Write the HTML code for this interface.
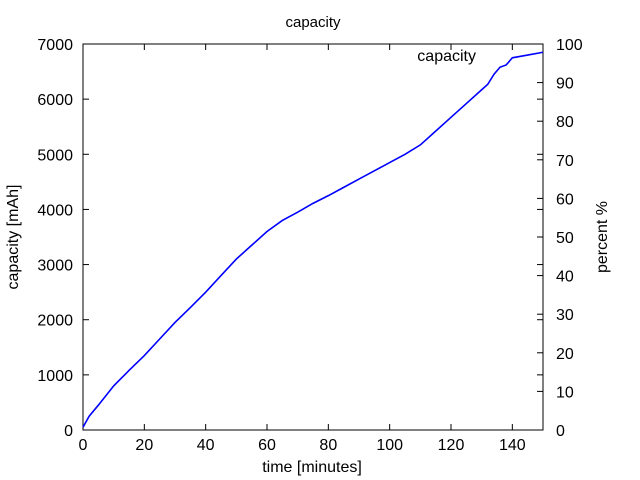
<!DOCTYPE html>
<html><head><meta charset="utf-8"><style>
html,body{margin:0;padding:0;background:#fff;}
svg{display:block;font-family:"Liberation Sans",sans-serif;}
</style></head><body>
<svg id="chart" width="640" height="480">
<text x="313" y="27" font-size="15" text-anchor="middle">capacity</text>
<rect x="83" y="44" width="460" height="386" fill="none" stroke="#000" stroke-width="1"/>
<g id="axes"></g>
<text x="312" y="472" font-size="16" text-anchor="middle">time [minutes]</text>
<text transform="translate(18,237) rotate(-90)" font-size="16" text-anchor="middle">capacity [mAh]</text>
<text transform="translate(607,237) rotate(-90)" font-size="16" text-anchor="middle">percent %</text>
<text x="476" y="61" font-size="16" text-anchor="end">capacity</text>
<polyline id="line" fill="none" stroke="#0000ff" stroke-width="1.6"/>
</svg>
<script>
const times=[0,2,5,10,15,20,25,30,35,40,45,50,55,60,65,70,75,80,85,90,95,100,105,110,115,120,125,130,132,134,136,138,140,145,150];
const capacity=[50,250,450,800,1080,1350,1650,1950,2220,2500,2800,3100,3350,3600,3800,3950,4110,4250,4400,4550,4700,4850,5000,5170,5420,5670,5920,6170,6270,6450,6580,6620,6750,6800,6850];
const xTicks=[0,20,40,60,80,100,120,140];
const yTicks=[0,1000,2000,3000,4000,5000,6000,7000];
const y2Ticks=[0,10,20,30,40,50,60,70,80,90,100];
const X0=83,X1=543,Y0=430,Y1=44;
const xs=v=>X0+(v/150)*(X1-X0);
const ys=v=>Y0-(v/7000)*(Y0-Y1);
const y2s=v=>Y0-(v/100)*(Y0-Y1);
const NS="http://www.w3.org/2000/svg";
const g=document.getElementById('axes');
function line(x1,y1,x2,y2){const l=document.createElementNS(NS,'line');l.setAttribute('x1',x1);l.setAttribute('y1',y1);l.setAttribute('x2',x2);l.setAttribute('y2',y2);l.setAttribute('stroke','#000');


g.appendChild(l);}
function text(x,y,s,a){const t=document.createElementNS(NS,'text');t.setAttribute('x',x);t.setAttribute('y',y);t.setAttribute('font-size','16');t.setAttribute('text-anchor',a);t.textContent=s;


g.appendChild(t);}
xTicks.forEach(v=>{const x=xs(v);line(x,Y0,x,Y0-6);line(x,Y1,x,Y1+6);text(x,Y0+20,v,'middle');});
yTicks.forEach(v=>{const y=ys(v);line(X0,y,X0+6,y);line(X1,y,X1-6,y);text(X0-10,y+6,v,'end');});
y2Ticks.forEach(v=>{const y=y2s(v);line(X1,y,X1-6,y);text(X1+13,y+6,v,'start');});
document.getElementById('line').setAttribute('points',times.map((t,i)=>xs(t)+','+ys(capacity[i])).join(' '));
</script>
</body></html>
